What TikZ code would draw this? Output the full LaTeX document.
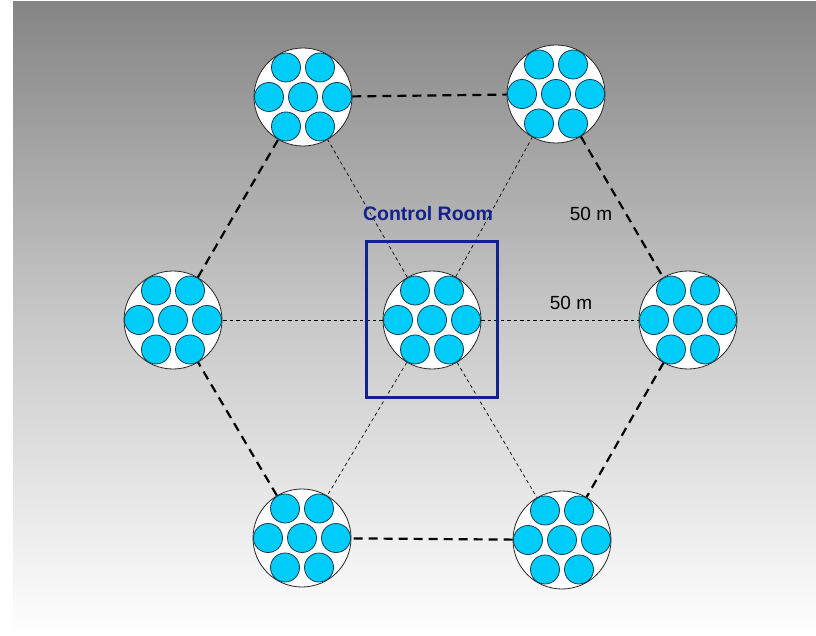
\documentclass[tikz,border=0pt]{standalone}
\usepackage{fontspec}
\setmainfont{Liberation Sans}
\definecolor{tubecyan}{RGB}{0,204,250}
\definecolor{tubeedge}{RGB}{20,60,80}
\definecolor{navy}{RGB}{18,34,140}
\definecolor{topgray}{RGB}{133,133,133}
\definecolor{midgray}{RGB}{200,200,200}
\tikzset{
  station/.style={circle,draw=black!85,line width=0.8pt,fill=white,minimum size=98pt,inner sep=0pt},
  tube/.style={draw=tubeedge,line width=0.8pt,fill=tubecyan},
  ringline/.style={draw=black,line width=2.2pt,dash pattern=on 9pt off 6pt},
  spoke/.style={draw=black,line width=0.7pt,dash pattern=on 3.5pt off 3pt},
  dist/.style={font=\fontsize{19}{22}\selectfont,text=black,inner sep=0pt},
  crlabel/.style={font=\bfseries\fontsize{19.5}{22}\selectfont,text=navy,inner sep=0pt},
  crbox/.style={draw=navy,line width=3pt}
}
\newcommand{\tubes}[1]{%
  \foreach \dx/\dy in {-17/-29.5,17/-29.5,-34/0,0/0,34/0,-17/29.5,17/29.5}
    \fill[tube] ([shift={(\dx,\dy)}]#1.center) circle (14.5);
}
\begin{document}
\begin{tikzpicture}[x=1pt,y=-1pt]
\useasboundingbox (0,0) rectangle (816,636);
\fill[white] (0,0) rectangle (816,636);
\shade[top color=topgray,bottom color=white,middle color=midgray] (13,2) rectangle (816,636);
% stations
\node[station] (tl) at (303,97) {};
\node[station] (tr) at (556,94) {};
\node[station] (l) at (173,320) {};
\node[station] (c) at (432,320) {};
\node[station] (r) at (688,320) {};
\node[station] (bl) at (302,538) {};
\node[station] (br) at (562,540) {};
\foreach \n in {tl,tr,l,c,r,bl,br} {\tubes{\n}}
% outer ring
\draw[ringline] (tl) -- (tr);
\draw[ringline] (tr) -- (r);
\draw[ringline] (r) -- (br);
\draw[ringline] (br) -- (bl);
\draw[ringline] (bl) -- (l);
\draw[ringline] (l) -- (tl);
% spokes
\foreach \n in {tl,tr,l,r,bl,br} {\draw[spoke] (c) -- (\n);}
% control room
\node[crlabel] (crl) at (428,214) {Control Room};
\coordinate (cra) at (366,242);
\coordinate (crb) at (497,397);
\draw[crbox] (cra) rectangle (crb);
% distances
\node[dist] (d1) at (591,214) {50 m};
\node[dist] (d2) at (571,303) {50 m};
\end{tikzpicture}
\end{document}
